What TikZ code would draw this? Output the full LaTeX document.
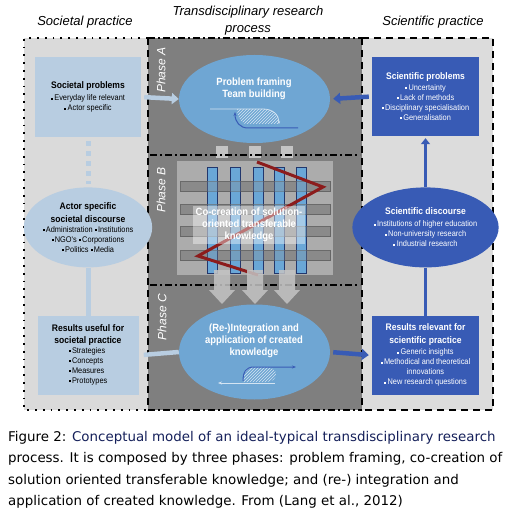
\documentclass[tikz,border=0pt]{standalone}
\usepackage{fontspec}
\setmainfont{Liberation Sans}
\newfontfamily\narrowfont[FakeStretch=0.9]{Liberation Sans}
\newfontfamily\captionfont{DejaVu Sans}
\usetikzlibrary{positioning,calc,shapes.geometric,arrows.meta,patterns}

\definecolor{socgrey}{HTML}{DADADA}
\definecolor{scigrey}{HTML}{DCDCDC}
\definecolor{procgrey}{HTML}{7F7F7F}
\definecolor{socblue}{HTML}{B8CDE1}
\definecolor{procblue}{HTML}{6FA6D3}
\definecolor{sciblue}{HTML}{385BB5}
\definecolor{barblue}{HTML}{6AA7D7}
\definecolor{bargrey}{HTML}{8A8A8A}
\definecolor{weavegrey}{HTML}{ACACAC}
\definecolor{blockgrey}{HTML}{C4C4C4}
\definecolor{zigred}{HTML}{8C1C1C}
\definecolor{capnavy}{HTML}{15205A}

\newcommand{\bul}{\rule[0.25ex]{0.45ex}{0.45ex}\,}
\newcommand{\boxhead}[1]{{\fontsize{9.5}{11}\selectfont\bfseries #1}}

\begin{document}
\begin{tikzpicture}[
  x=1pt,y=-1pt,
  titletext/.style={font=\itshape\fontsize{13}{17}\selectfont, align=center},
  phaselabel/.style={rotate=90, text=white, font=\itshape\fontsize{12}{14}\selectfont},
  practicebox/.style={
    rectangle,
    inner sep=0pt,
    minimum width=106pt,
    minimum height=80pt,
    align=center,
    font=\narrowfont\fontsize{8.2}{10}\selectfont,
  },
  socbox/.style={practicebox, fill=socblue},
  scibox/.style={practicebox, fill=sciblue, text=white},
  discourse/.style={
    ellipse,
    inner sep=0pt,
    minimum width=118pt,
    minimum height=80pt,
    align=center,
    font=\narrowfont\fontsize{8.2}{10}\selectfont,
  },
  phaseoval/.style={ellipse, fill=procblue, inner sep=0pt, minimum width=151pt},
  phasetext/.style={text=white, align=center, font=\narrowfont\bfseries\fontsize{10.5}{12}\selectfont},
  captionline/.style={anchor=base west, inner sep=0pt, font=\captionfont\fontsize{13.4}{16}\selectfont},
  ]
  \useasboundingbox (0,0) rectangle (506,518);

  % practice areas
  \fill [socgrey] (24,38) rectangle (148,410);
  \fill [procgrey] (148,38) rectangle (362,410);
  \fill [scigrey] (362,38) rectangle (493,410);

  % borders
  \draw [line width=1.8pt, dash pattern=on 1.8pt off 6pt] (148,38) -- (24,38) -- (24,410) -- (148,410);
  \draw [line width=1.6pt, dash pattern=on 7pt off 3pt on 2pt off 3pt] (148,38) -- (362,38);
  \draw [line width=1.6pt, dash pattern=on 7pt off 3pt on 2pt off 3pt] (148,410) -- (362,410);
  \draw [line width=2.4pt, dash pattern=on 7pt off 5pt] (148,38) -- (148,410);
  \draw [line width=2.4pt, dash pattern=on 7pt off 5pt] (362,38) -- (362,410);
  \draw [line width=2pt, dash pattern=on 7pt off 5pt] (362,38) -- (493,38) -- (493,410) -- (362,410);

  % titles
  \node [titletext] (soctitle) at (85,22) {Societal practice};
  \node [titletext] (proctitle) at (248,21) {Transdisciplinary research\\process};
  \node [titletext] (scititle) at (433,22) {Scientific practice};

  % Phase B weave
  \fill [weavegrey] (177,161) rectangle (333,275);
  \foreach \y in {186,209,231,255}
    \draw [fill=bargrey, draw=black!60] (180,\y-5) rectangle (330,\y+5);
  \foreach \x in {212,235,258,279,301}
    \draw [fill=barblue, draw=sciblue!60!black] (\x-5,167) rectangle (\x+5,273);
  \foreach \y in {186,209,231,255}
    \draw [fill=bargrey, fill opacity=0.3, draw=black!60, draw opacity=0.5] (180,\y-5) rectangle (330,\y+5);
  \draw [zigred, line width=3pt, line join=miter] (257,162) -- (323,187) -- (198,256) -- (258,275);

  % phase lines
  \foreach \x in {222,255,287}
    \fill [blockgrey] (\x-6,146) rectangle (\x+6,158);
  \draw [line width=1.6pt, dash pattern=on 7pt off 3pt on 2pt off 3pt] (150,155) -- (360,155);
  \draw [line width=1.6pt, dash pattern=on 7pt off 3pt on 2pt off 3pt] (150,285) -- (360,285);
  \foreach \x in {222,255,287}
    \fill [blockgrey, fill opacity=0.85] (\x-8,270) -- (\x+8,270) -- (\x+8,290) -- (\x+13,290)
      -- (\x,304) -- (\x-13,290) -- (\x-8,290) -- cycle;

  % phase labels
  \node [phaselabel] (phaseA) at (161,70) {Phase A};
  \node [phaselabel] (phaseB) at (161,190) {Phase B};
  \node [phaselabel] (phaseC) at (162,317) {Phase C};

  % Societal practice
  \node [socbox] (socprob) at (88,97)
  {\boxhead{Societal problems}\\[2pt]
   \bul Everyday life relevant\\
   \bul Actor specific};
  \node [discourse, fill=socblue, below=50pt of socprob] (socdisc)
  {\boxhead{Actor specific}\\[3pt]
   \boxhead{societal discourse}\\
   \bul Administration \bul Institutions\\
   \bul NGO's \bul Corporations\\
   \bul Politics \bul Media};
  \node [socbox, minimum width=101pt, minimum height=79pt, below=48pt of socdisc] (socres)
  {\boxhead{Results useful for}\\[2pt]
   \boxhead{societal practice}\\
   \begin{tabular}[t]{@{}l@{}}
     \bul Strategies\\
     \bul Concepts\\
     \bul Measures\\
     \bul Prototypes
   \end{tabular}};

  % Scientific practice
  \node [scibox, minimum width=107pt, minimum height=79pt] (sciprob) at (425.5,96.5)
  {\boxhead{Scientific problems}\\[1pt]
   \bul Uncertainty\\
   \bul Lack of methods\\
   \bul Disciplinary specialisation\\
   \bul Generalisation};
  \node [discourse, fill=sciblue, text=white, minimum width=120pt, below=51pt of sciprob] (scidisc)
  {\boxhead{Scientific discourse}\\[2pt]
   \bul Institutions of higher education\\
   \bul Non-university research\\
   \bul Industrial research};
  \node [scibox, minimum width=107pt, minimum height=79pt, below=48pt of scidisc] (scires)
  {\boxhead{Results relevant for}\\[3pt]
   \boxhead{scientific practice}\\[1pt]
   \bul Generic insights\\
   \bul Methodical and theoretical\\
   innovations\\
   \bul New research questions};

  % Phase A
  \node [phaseoval, minimum height=88pt] (framing) at (254.5,99) {};
  \node [phasetext] (framingtext) at (254,89) {Problem framing\\Team building};
  \fill [pattern=north east lines, pattern color=white!70!procblue]
    (237,109) -- (263,109) .. controls (273,109) and (279,115) .. (279,124)
    -- (245,124) .. controls (240,121) and (237,116) .. (237,109) -- cycle;
  \draw [white!70!procblue, line width=0.8pt, -{Stealth[length=3pt]}]
    (210,109) -- (263,109) .. controls (273,109) and (279,115) .. (279,124);
  \draw [sciblue, line width=1pt, -{Stealth[length=4pt]}]
    (298,128) -- (248,128) .. controls (240,128) and (235,122) .. (235,112);

  % Phase B
  \node [phasetext, fill=white, fill opacity=0.4, text opacity=1, inner sep=0pt,
    minimum width=112pt, minimum height=38pt] (cocreation) at (249,225)
  {Co-creation of solution-\\oriented transferable\\knowledge};

  % Phase C
  \node [phaseoval, minimum height=95pt] (integration) at (254.5,352) {};
  \node [phasetext] (integrationtext) at (254,341) {(Re-)Integration and\\application of created\\knowledge};
  \fill [pattern=north east lines, pattern color=white!70!procblue]
    (250,367) -- (266,367) .. controls (273,367) and (276,371) .. (276,374)
    .. controls (276,379) and (272,382) .. (266,382) -- (243,382)
    .. controls (243,374) and (245,369) .. (250,367) -- cycle;
  \draw [sciblue, line width=1pt, -{Stealth[length=4pt]}]
    (243,381) .. controls (243,372) and (246,367) .. (254,367) -- (296,367);
  \draw [white!70!procblue, line width=0.8pt, -{Stealth[length=4pt]}]
    (275,383) -- (218,383);

  \begin{scope}[
    flowarrow/.style={
      line width=4.5pt,
      -{Triangle[length=7pt,width=11pt]},
    },
    ]
    % Path societal
    \draw [flowarrow, socblue, shorten <=3pt] (socprob.east) -- (framing.west);
    \draw [socblue, line width=4.5pt, shorten >=5pt] (integration.west) -- (socres.east);
    \draw [socblue, line width=5pt, dash pattern=on 5pt off 5pt, shorten <=4pt, shorten >=3pt]
      (socprob.south) -- (socdisc.north);
    \draw [socblue, line width=5pt] (socdisc.south) -- (socres.north);

    % Path scientific
    \draw [flowarrow, sciblue, shorten <=3pt, shorten >=3pt] (sciprob.west) -- (framing.east);
    \draw [flowarrow, sciblue, shorten <=3pt, shorten >=3pt] (integration.east) -- (scires.west);
    \draw [sciblue, line width=3.5pt, -{Triangle[length=6pt,width=9pt]}, shorten >=2pt]
      (scidisc.north) -- (sciprob.south);
    \draw [sciblue, line width=3.5pt] (scidisc.south) -- (scires.north);
  \end{scope}

  % caption
  \node [captionline] (cap1) at (8,441)
    {Figure 2: \textcolor{capnavy}{Conceptual model of an ideal-typical transdisciplinary research}};
  \node [captionline] (cap2) at (8,462)
    {process. It is composed by three phases: problem framing, co-creation of};
  \node [captionline] (cap3) at (8,484)
    {solution oriented transferable knowledge; and (re-) integration and};
  \node [captionline] (cap4) at (8,505)
    {application of created knowledge. From (Lang et al., 2012)};
\end{tikzpicture}
\end{document}
